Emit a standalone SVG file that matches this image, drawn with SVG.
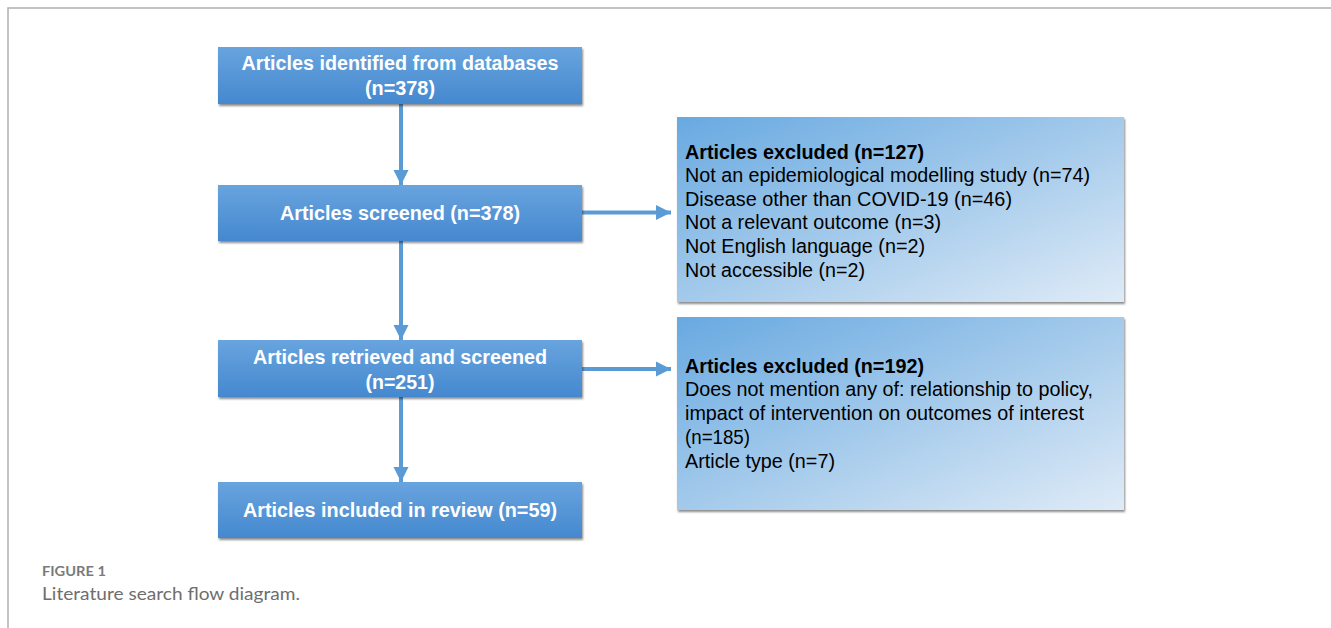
<svg xmlns="http://www.w3.org/2000/svg" width="1331" height="628" viewBox="0 0 1331 628">
<defs>
<linearGradient id="gBlue" x1="0" y1="0" x2="0" y2="1">
<stop offset="0" stop-color="#68a4de"/>
<stop offset="1" stop-color="#4588cf"/>
</linearGradient>
<linearGradient id="gLight" x1="0" y1="0" x2="1" y2="1">
<stop offset="0" stop-color="#68a9e1"/>
<stop offset="0.55" stop-color="#a9cdec"/>
<stop offset="1" stop-color="#dfebf7"/>
</linearGradient>
<filter id="sh" x="-5%" y="-5%" width="110%" height="115%">
<feDropShadow dx="1" dy="2" stdDeviation="1" flood-color="#000" flood-opacity="0.45"/>
</filter>
<marker id="ah" viewBox="0 0 10 10" refX="10" refY="5" markerWidth="3.8" markerHeight="3.8" orient="auto" markerUnits="strokeWidth">
<path d="M0,0 L10,5 L0,10 Z" fill="#5b9bd5"/>
</marker>
<style>
.bx{fill:url(#gBlue);filter:url(#sh)}
.lb{fill:url(#gLight);filter:url(#sh)}
.wt{font-family:"Liberation Sans",Arial,sans-serif;font-weight:bold;font-size:20px;fill:#fff;text-anchor:middle}
.bt{font-family:"Liberation Sans",Arial,sans-serif;font-size:20px;fill:#000}
.bb{font-weight:bold}
.cn{stroke:#5b9bd5;stroke-width:4;fill:none;marker-end:url(#ah)}
.fr{stroke:#b0b0b0;stroke-width:1.5;fill:none}
</style>
</defs>
<rect width="1331" height="628" fill="#fff"/>
<path class="fr" d="M8,628 L8,8 L1331,8"/>
<g id="connectors">
<line class="cn" x1="401" y1="104" x2="401" y2="185"/>
<line class="cn" x1="582" y1="212.5" x2="671" y2="212.5"/>
<line class="cn" x1="401" y1="241" x2="401" y2="340"/>
<line class="cn" x1="582" y1="369" x2="671" y2="369"/>
<line class="cn" x1="401" y1="397" x2="401" y2="482"/>
</g>
<g id="n1">
<rect class="bx" x="218" y="47" width="364" height="57"/>
<text class="wt" x="400" y="70" textLength="317" lengthAdjust="spacingAndGlyphs">Articles identified from databases</text>
<text class="wt" x="400" y="95" textLength="70" lengthAdjust="spacingAndGlyphs">(n=378)</text>
</g>
<g id="n2">
<rect class="bx" x="218" y="185" width="364" height="56"/>
<text class="wt" x="400" y="220" textLength="240" lengthAdjust="spacingAndGlyphs">Articles screened (n=378)</text>
</g>
<g id="n3">
<rect class="bx" x="218" y="340" width="364" height="57"/>
<text class="wt" x="400" y="364" textLength="294" lengthAdjust="spacingAndGlyphs">Articles retrieved and screened</text>
<text class="wt" x="400" y="389" textLength="69" lengthAdjust="spacingAndGlyphs">(n=251)</text>
</g>
<g id="n4">
<rect class="bx" x="218" y="482" width="364" height="56"/>
<text class="wt" x="400" y="517" textLength="314" lengthAdjust="spacingAndGlyphs">Articles included in review (n=59)</text>
</g>
<g id="n5">
<rect class="lb" x="677" y="117" width="447" height="185"/>
<text class="bt bb" x="685" y="159" textLength="239" lengthAdjust="spacingAndGlyphs">Articles excluded (n=127)</text>
<text class="bt" x="685" y="182" textLength="405" lengthAdjust="spacingAndGlyphs">Not an epidemiological modelling study (n=74)</text>
<text class="bt" x="685" y="206" textLength="327" lengthAdjust="spacingAndGlyphs">Disease other than COVID-19 (n=46)</text>
<text class="bt" x="685" y="229" textLength="256" lengthAdjust="spacingAndGlyphs">Not a relevant outcome (n=3)</text>
<text class="bt" x="685" y="253" textLength="240" lengthAdjust="spacingAndGlyphs">Not English language (n=2)</text>
<text class="bt" x="685" y="277" textLength="180" lengthAdjust="spacingAndGlyphs">Not accessible (n=2)</text>
</g>
<g id="n6">
<rect class="lb" x="677" y="317" width="447" height="193"/>
<text class="bt bb" x="685" y="373" textLength="239" lengthAdjust="spacingAndGlyphs">Articles excluded (n=192)</text>
<text class="bt" x="685" y="396" textLength="408" lengthAdjust="spacingAndGlyphs">Does not mention any of: relationship to policy,</text>
<text class="bt" x="685" y="420" textLength="399" lengthAdjust="spacingAndGlyphs">impact of intervention on outcomes of interest</text>
<text class="bt" x="685" y="444" textLength="65" lengthAdjust="spacingAndGlyphs">(n=185)</text>
<text class="bt" x="685" y="468" textLength="150" lengthAdjust="spacingAndGlyphs">Article type (n=7)</text>
</g>
<g id="caption">
<text x="42" y="576" font-family="Lato,'Open Sans',sans-serif" font-weight="bold" font-size="13" fill="#7a7a7a" textLength="64" lengthAdjust="spacingAndGlyphs">FIGURE 1</text>
<text x="42" y="600" font-family="Lato,'Open Sans',sans-serif" font-size="18" fill="#6e6e6e" textLength="258" lengthAdjust="spacingAndGlyphs">Literature search flow diagram.</text>
</g>
</svg>
